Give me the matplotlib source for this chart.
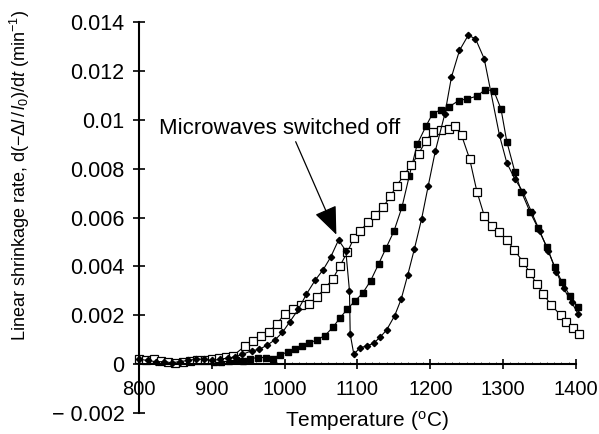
import numpy as np
import matplotlib
matplotlib.use('Agg')
import matplotlib.pyplot as plt
from matplotlib.ticker import MultipleLocator, FixedLocator

plt.rcParams['font.family'] = ['Liberation Sans', 'DejaVu Sans']
plt.rcParams['mathtext.fontset'] = 'custom'
plt.rcParams['mathtext.rm'] = 'Liberation Sans'
plt.rcParams['mathtext.it'] = 'Liberation Sans:italic'

# diamonds: microwaves switched off at ~1075 C
t_dia = [800, 812, 823, 834, 845, 856, 867, 878, 889, 900, 911, 922, 932,
         942, 955, 965, 976, 987, 997, 1007, 1019, 1030, 1042, 1053, 1063, 1074,
         1084, 1089, 1090, 1095, 1103, 1113, 1122, 1131, 1140, 1151,
         1160, 1169, 1178, 1188, 1197, 1207, 1220, 1229, 1240, 1252, 1262, 1274,
         1295, 1305, 1316, 1327, 1339, 1350, 1362, 1373, 1383, 1394, 1403]
r_dia = [0.0002, 0.00015, 0.0001, 0.0001, 0.00006, 0.0001, 0.00015, 0.0002, 0.0002, 0.00015, 0.0002, 0.00025, 0.0003,
         0.0004, 0.00055, 0.0006, 0.00078, 0.001, 0.0013, 0.00173, 0.00225, 0.00287, 0.00344, 0.00387, 0.00437, 0.00508,
         0.00464, 0.0030, 0.00123, 0.0004, 0.00066, 0.00075, 0.00085, 0.0011, 0.0014, 0.00198,
         0.00266, 0.00365, 0.0047, 0.00594, 0.00728, 0.00874, 0.01025, 0.01175, 0.01284, 0.01346, 0.01332, 0.0125,
         0.00936, 0.00824, 0.00758, 0.00706, 0.00622, 0.00546, 0.00464, 0.00378, 0.0031, 0.00253, 0.00205]

# filled squares
t_fill = [903, 913, 923, 933, 943, 953, 964, 974, 984, 993, 1005, 1014, 1024, 1034, 1044, 1055, 1066, 1076, 1086, 1097,
          1107, 1118, 1129, 1139, 1150, 1161, 1171, 1182, 1194, 1203, 1215, 1225, 1239, 1251, 1264, 1275, 1287,
          1297, 1305, 1316, 1325, 1337, 1348, 1360, 1371, 1381, 1392, 1403]
r_fill = [0.00007, 0.0001, 0.00012, 0.00018, 0.00014, 0.00023, 0.00027, 0.00027, 0.00023, 0.00038, 0.0005, 0.00061, 0.00075,
          0.00085, 0.001, 0.00116, 0.0015, 0.00189, 0.00225, 0.0026,
          0.0029, 0.00341, 0.0041, 0.00474, 0.00544, 0.00642, 0.00769, 0.009, 0.00974, 0.01025, 0.01042, 0.01052, 0.01079,
          0.01086, 0.01097, 0.01123, 0.0112,
          0.01045, 0.00911, 0.00788, 0.00706, 0.00622, 0.00556, 0.00478, 0.00396, 0.00335, 0.00277, 0.00232]

# open squares
t_open = [800, 810, 820, 830, 840, 850, 860, 870, 880, 890, 900, 910, 920, 929, 946, 957, 968, 979, 989, 1000,
          1011, 1022, 1033, 1044, 1055, 1066, 1076, 1086, 1095, 1104, 1114, 1124, 1135, 1145, 1154, 1164, 1174, 1184,
          1194, 1204, 1214, 1225, 1234, 1243, 1254, 1264, 1274, 1284, 1294, 1305, 1315, 1327, 1337, 1346, 1355, 1366,
          1379, 1386, 1396, 1404]
r_open = [0.0002, 0.00018, 0.0002, 0.00012, 0.0001, 0.00006, 0.0001, 0.00012, 0.00015, 0.00018, 0.0002, 0.00025, 0.0003,
          0.00034, 0.00075, 0.00096, 0.00116, 0.00133, 0.00164, 0.00205,
          0.00225, 0.00242, 0.00246, 0.00273, 0.0031, 0.00348, 0.00403, 0.00458, 0.00515, 0.00546, 0.0058, 0.0061,
          0.00642, 0.00687, 0.00731, 0.00775, 0.00816, 0.00861, 0.00915, 0.00952, 0.00959, 0.00963, 0.00974, 0.00936,
          0.0084, 0.00706, 0.00608, 0.00567, 0.0054, 0.0051, 0.00468, 0.0042, 0.00373, 0.00328, 0.00287, 0.00242,
          0.002, 0.00173, 0.00146, 0.00123]

yticks = [-0.002, 0, 0.002, 0.004, 0.006, 0.008, 0.01, 0.012, 0.014]
ylabels = ['\u2212 0.002', '0', '0.002', '0.004', '0.006', '0.008', '0.01', '0.012', '0.014']

fig = plt.figure(figsize=(5.99, 4.34), dpi=100)
ax = fig.add_axes([0.232, 0.0484, 0.7296, 0.9006])

ax.plot(t_fill, r_fill, color='black', lw=0.8, marker='s', ms=4.2, mfc='black', mec='black', clip_on=False)
ax.plot(t_open, r_open, color='black', lw=0.8, marker='s', ms=5.2, mfc='white', mec='black', mew=0.9, clip_on=False)
ax.plot(t_dia, r_dia, color='black', lw=0.8, marker='D', ms=3.2, mfc='black', mec='black', clip_on=False)

ax.set_xlim(800, 1400)
ax.set_ylim(-0.002, 0.014)

ax.spines['top'].set_visible(False)
ax.spines['right'].set_visible(False)
ax.spines['bottom'].set_position(('data', 0))
ax.spines['left'].set_linewidth(1.5)
ax.spines['bottom'].set_linewidth(1.5)

ax.xaxis.set_major_locator(MultipleLocator(100))
ax.xaxis.set_minor_locator(MultipleLocator(10))
ax.yaxis.set_major_locator(FixedLocator(yticks))
ax.set_yticklabels(ylabels)
ax.tick_params(axis='x', which='major', direction='inout', length=7, width=1.2, labelsize=14.5, pad=8)
ax.tick_params(axis='x', which='minor', direction='in', length=1.5, width=0.5)
ax.tick_params(axis='y', which='major', direction='inout', length=8.5, width=1.2, labelsize=15.5, pad=6)

fig.text(367 / 599, 1 - 427 / 434, 'Temperature ($^{\\rm o}$C)', ha='center', va='baseline', fontsize=15)
fig.text(20 / 599, 1 - 175 / 434,
         'Linear shrinkage rate, d($-\\Delta l\\,/\\,l_0$)/d$t$ (min$^{-1}$)',
         rotation=90, ha='center', va='center', fontsize=13)

ax.annotate('Microwaves switched off', xy=(1071, 0.0053), xytext=(828, 0.00965),
            fontsize=16, ha='left', va='center',
            arrowprops=dict(arrowstyle='-|>,head_length=1.1,head_width=0.45', color='black', lw=0.9,
                            shrinkA=0, shrinkB=0, relpos=(0.56, 0.0)))

fig.savefig('out.png', dpi=100)
